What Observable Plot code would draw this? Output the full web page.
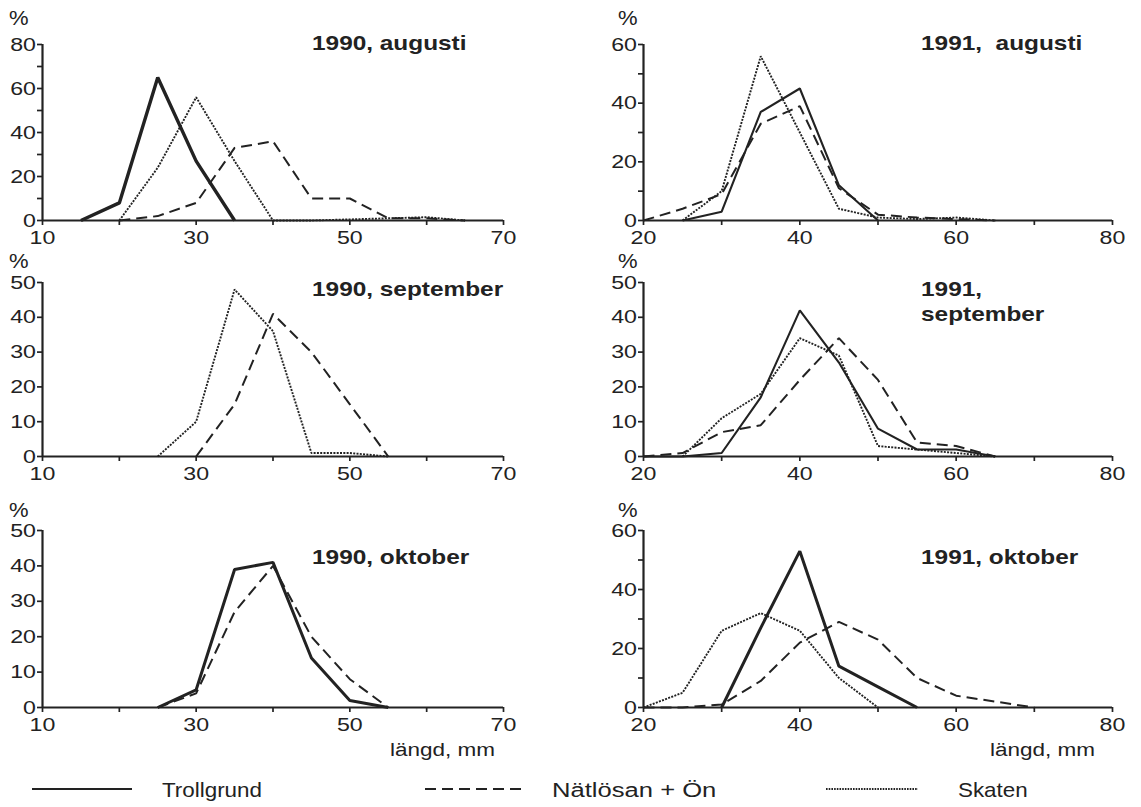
<!DOCTYPE html>
<html>
<head>
<meta charset="utf-8">
<script src="https://cdn.jsdelivr.net/npm/d3@7"></script>
<script src="https://cdn.jsdelivr.net/npm/@observablehq/plot@0.6"></script>
<style>
  body { margin: 0; background: #fff; }
  #wrap { position: relative; width: 1141px; height: 807px; overflow: hidden; background: #fff; }
  #wrap svg.panel { position: absolute; }
  #overlay { position: absolute; left: 0; top: 0; }
</style>
</head>
<body>
<div id="wrap"></div>
<script>
// ---------------- DATA (percent of catch per 5 mm length class) ----------------
const seriesNames = ["Trollgrund", "Nätlösan + Ön", "Skaten"];

// 1990, augusti
const len90aug   = [15, 20, 25, 30, 35, 40, 45, 50, 55, 60, 65];
const troll90aug = [0, 8, 65, 27, 0, null, null, null, null, null, null];
const natl90aug  = [null, 0, 2, 8, 33, 36, 10, 10, 1, 1, 0];
const skat90aug  = [null, 0, 24, 56, 27, 0, 0, 0.5, 1, 1.5, 0];

// 1991, augusti
const len91aug   = [20, 25, 30, 35, 40, 45, 50, 55, 60, 65];
const troll91aug = [null, 0, 3, 37, 45, 12, 0, null, null, null];
const natl91aug  = [0, 4, 9, 33, 39, 11, 2, 1, 0.5, 0];
const skat91aug  = [null, 0, 10, 56, 30, 4, 1, 0.5, 1, 0];

// 1990, september
const len90sep   = [25, 30, 35, 40, 45, 50, 55];
const natl90sep  = [null, 0, 15, 41, 30, 15, 0];
const skat90sep  = [0, 10, 48, 36, 1, 1, 0];

// 1991, september
const len91sep   = [20, 25, 30, 35, 40, 45, 50, 55, 60, 65];
const troll91sep = [0, 0, 1, 17, 42, 27, 8, 2, 2, 0];
const natl91sep  = [0, 1, 7, 9, 22, 34, 22, 4, 3, 0];
const skat91sep  = [null, 0, 11, 18, 34, 29, 3, 2, 1, 0];

// 1990, oktober
const len90okt   = [25, 30, 35, 40, 45, 50, 55];
const troll90okt = [0, 5, 39, 41, 14, 2, 0];
const natl90okt  = [0, 4, 27, 40, 20, 8, 0];

// 1991, oktober
const len91okt   = [20, 25, 30, 35, 40, 45, 50, 55, 60, 65, 70];
const troll91okt = [null, null, 0, 27, 53, 14, 7, 0, null, null, null];
const natl91okt  = [0, 0, 1, 9, 22, 29, 23, 10, 4, 2, 0];
const skat91okt  = [0, 5, 26, 32, 26, 10, 0, null, null, null, null];

// axis tick labels
const xLabels1990 = [10, 30, 50, 70];
const xLabels1991 = [20, 40, 60, 80];

// ---------------- STYLE / LAYOUT ----------------
const INK = "#222";
const FONT = "'Liberation Sans', Arial, Helvetica, sans-serif";
const STRETCH = 1.22;   // the scanned figure's lettering is horizontally wide
const styles = {
  "Trollgrund":    {strokeDasharray: null,      strokeWidth: 3},
  "Nätlösan + Ön": {strokeDasharray: "11,6",    strokeWidth: 2},
  "Skaten":        {strokeDasharray: "2,1.3",   strokeWidth: 1.9}
};

const panels = [
  {title: ["1990, augusti"], left: 0, top: 0, width: 540, height: 250, mt: 44, ml: 42, mr: 37,
   xDomain: [10, 70], xLab: xLabels1990, yMax: 80, yLab: [0, 20, 40, 60, 80],
   len: len90aug, series: [troll90aug, natl90aug, skat90aug], trollW: 3.4,
   titleX: 312, titleY: 50, pctX: 9, pctY: 25},
  {title: ["1991,  augusti"], left: 600, top: 0, width: 541, height: 250, mt: 44, ml: 43, mr: 29,
   xDomain: [20, 80], xLab: xLabels1991, yMax: 60, yLab: [0, 20, 40, 60],
   len: len91aug, series: [troll91aug, natl91aug, skat91aug], trollW: 2.1,
   titleX: 921, titleY: 50, pctX: 618, pctY: 25},
  {title: ["1990, september"], left: 0, top: 250, width: 540, height: 236, mt: 32, ml: 42, mr: 37,
   xDomain: [10, 70], xLab: xLabels1990, yMax: 50, yLab: [0, 10, 20, 30, 40, 50],
   len: len90sep, series: [null, natl90sep, skat90sep], trollW: 3,
   titleX: 312, titleY: 296, pctX: 9, pctY: 268},
  {title: ["1991,", "september"], left: 600, top: 250, width: 541, height: 236, mt: 32, ml: 43, mr: 29,
   xDomain: [20, 80], xLab: xLabels1991, yMax: 50, yLab: [0, 10, 20, 30, 40, 50],
   len: len91sep, series: [troll91sep, natl91sep, skat91sep], trollW: 2.1,
   titleX: 921, titleY: 296, pctX: 618, pctY: 268},
  {title: ["1990, oktober"], left: 0, top: 490, width: 540, height: 247, mt: 40, ml: 42, mr: 37,
   xDomain: [10, 70], xLab: xLabels1990, yMax: 50, yLab: [0, 10, 20, 30, 40, 50],
   len: len90okt, series: [troll90okt, natl90okt, null], trollW: 3,
   titleX: 312, titleY: 564, pctX: 9, pctY: 517},
  {title: ["1991, oktober"], left: 600, top: 490, width: 541, height: 247, mt: 40, ml: 43, mr: 29,
   xDomain: [20, 80], xLab: xLabels1991, yMax: 60, yLab: [0, 20, 40, 60],
   len: len91okt, series: [troll91okt, natl91okt, skat91okt], trollW: 3,
   titleX: 921, titleY: 564, pctX: 618, pctY: 517}
];

// ---------------- BUILD ----------------
const wrap = document.getElementById("wrap");

function stretchText(svg) {
  svg.querySelectorAll("text").forEach(t => {
    const tr = t.getAttribute("transform");
    if (tr) {
      t.setAttribute("transform", tr + ` scale(${STRETCH},1)`);
    } else {
      const x = +(t.getAttribute("x") || 0), y = +(t.getAttribute("y") || 0);
      t.setAttribute("transform", `translate(${x},${y}) scale(${STRETCH},1) translate(${-x},${-y})`);
    }
  });
}

panels.forEach(p => {
  const lineMarks = [];
  p.series.forEach((vals, i) => {
    if (!vals) return;
    const name = seriesNames[i];
    const rows = p.len.map((l, k) => ({len: l, pct: vals[k] == null ? NaN : vals[k], series: name}));
    const st = styles[name];
    lineMarks.push(Plot.line(rows, {
      x: "len", y: "pct",
      stroke: INK,
      strokeWidth: name === "Trollgrund" ? p.trollW : st.strokeWidth,
      strokeDasharray: st.strokeDasharray || undefined,
      strokeLinejoin: "miter",
      strokeLinecap: "butt"
    }));
  });
  const plot = Plot.plot({
    width: p.width, height: p.height,
    marginTop: p.mt, marginLeft: p.ml, marginRight: p.mr, marginBottom: 30,
    x: {domain: p.xDomain},
    y: {domain: [0, p.yMax]},
    style: {fontFamily: FONT, fontSize: "19px", color: INK, background: "transparent", overflow: "visible"},
    marks: [
      Plot.axisX({
        ticks: d3.range(p.xDomain[0], p.xDomain[1] + 1, 10),
        tickSize: 5, tickPadding: 5, strokeWidth: 1.7, fontSize: 19,
        tickFormat: d => p.xLab.includes(d) ? String(d) : "",
        label: null
      }),
      Plot.axisY({
        ticks: d3.range(0, p.yMax + 1, 10),
        tickSize: 5, tickPadding: 1.5, strokeWidth: 1.7, fontSize: 19,
        tickFormat: d => p.yLab.includes(d) ? String(d) : "",
        label: null
      }),
      Plot.ruleY([0], {stroke: INK, strokeWidth: 2.2}),
      Plot.ruleX([p.xDomain[0]], {stroke: INK, strokeWidth: 2.2}),
      ...lineMarks
    ]
  });
  plot.classList.add("panel");
  plot.style.left = p.left + "px";
  plot.style.top = p.top + "px";
  stretchText(plot);
  wrap.appendChild(plot);
});

// ---------------- OVERLAY TEXT (titles, %, axis names, legend) ----------------
const NS = "http://www.w3.org/2000/svg";
const ov = document.createElementNS(NS, "svg");
ov.setAttribute("id", "overlay");
ov.setAttribute("width", 1141);
ov.setAttribute("height", 807);
ov.style.fontFamily = FONT;
wrap.appendChild(ov);

function addText(str, x, y, size, weight, stretch) {
  const t = document.createElementNS(NS, "text");
  t.setAttribute("transform", `translate(${x},${y}) scale(${stretch},1)`);
  t.setAttribute("font-size", size);
  t.setAttribute("font-weight", weight);
  t.setAttribute("fill", INK);
  t.setAttribute("xml:space", "preserve");
  t.style.whiteSpace = "pre";
  t.textContent = str;
  ov.appendChild(t);
}

panels.forEach(p => {
  p.title.forEach((line, i) => addText(line, p.titleX, p.titleY + i * 25, 20, "bold", 1.22));
  addText("%", p.pctX, p.pctY, 20, "normal", 1.1);
});
addText("längd, mm", 390, 756, 18, "normal", 1.25);
addText("längd, mm", 990, 756, 18, "normal", 1.25);

// legend
const legendItems = [
  {name: seriesNames[0], x0: 32, x1: 132, tx: 162},
  {name: seriesNames[1], x0: 425, x1: 525, tx: 552},
  {name: seriesNames[2], x0: 826, x1: 918, tx: 958}
];
legendItems.forEach(it => {
  const l = document.createElementNS(NS, "line");
  l.setAttribute("x1", it.x0); l.setAttribute("x2", it.x1);
  l.setAttribute("y1", 789); l.setAttribute("y2", 789);
  l.setAttribute("stroke", INK);
  l.setAttribute("stroke-width", it.name === "Trollgrund" ? 2.2 : (it.name === "Skaten" ? 1.8 : 1.9));
  if (it.name === "Nätlösan + Ön") l.setAttribute("stroke-dasharray", "11,6");
  if (it.name === "Skaten") l.setAttribute("stroke-dasharray", "1.6,1.1");
  ov.appendChild(l);
  addText(it.name, it.tx, 797, 20, "normal", it.name === "Nätlösan + Ön" ? 1.28 : 1.12);
});
</script>
</body>
</html>
